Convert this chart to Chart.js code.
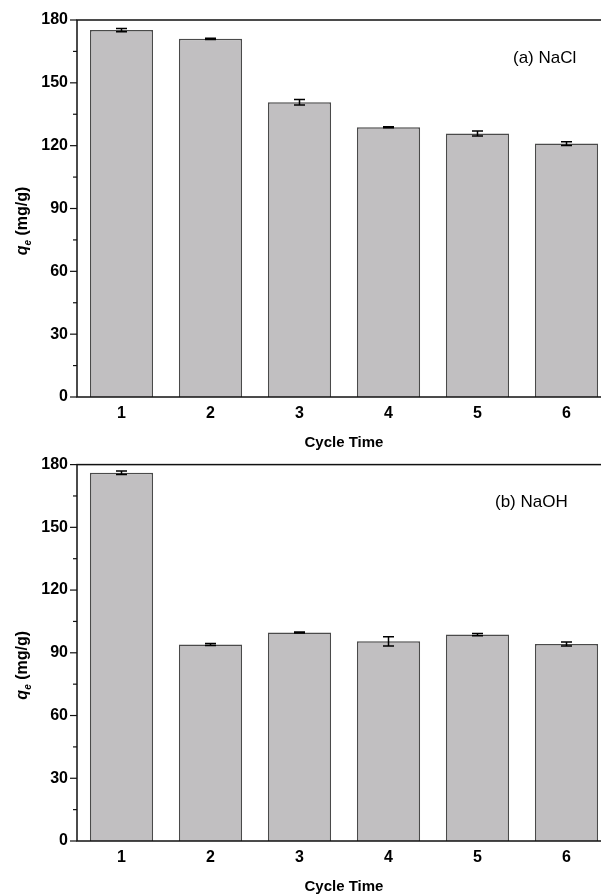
<!DOCTYPE html>
<html>
<head>
<meta charset="utf-8">
<script src="https://cdn.jsdelivr.net/npm/chart.js@4"></script>
<style>
  html, body { margin: 0; padding: 0; background: #fff; width: 601px; height: 896px; overflow: hidden; }
  .panel { position: absolute; left: 0; width: 640px; }
  #p1 { top: 0; height: 452px; }
  #p2 { top: 446px; height: 450px; }
</style>
</head>
<body>
<div class="panel" id="p1"><canvas id="chart-nacl"></canvas></div>
<div class="panel" id="p2"><canvas id="chart-naoh"></canvas></div>
<script>
  const cycles = ["1", "2", "3", "4", "5", "6"];
  const qeNaCl = [175.2, 171.0, 140.7, 128.8, 125.8, 121.0];
  const errNaCl = [0.8, 0.3, 1.3, 0.2, 1.2, 0.9];
  const qeNaOH = [176.1, 94.0, 99.7, 95.5, 98.7, 94.2];
  const errNaOH = [0.8, 0.5, 0.2, 2.2, 0.5, 1.0];
  const yMax = 180;
  const yStep = 15;
  const yLabelStep = 30;

  const FONT = "'Liberation Sans', Arial, sans-serif";

  // error bars, frame, y ticks and axis title drawn over the bars
  const extras = {
    id: "extras",
    afterDatasetsDraw(chart, args, opts) {
      const { ctx, chartArea } = chart;
      const x = chart.scales.x;
      const y = chart.scales.y;
      ctx.save();

      // error bars
      ctx.strokeStyle = "#000";
      ctx.lineWidth = 1.5;
      opts.values.forEach((v, i) => {
        const cx = x.getPixelForValue(i);
        const yHi = y.getPixelForValue(v + opts.errs[i]);
        const yLo = y.getPixelForValue(v - opts.errs[i]);
        ctx.beginPath();
        ctx.moveTo(cx, yHi);
        ctx.lineTo(cx, yLo);
        ctx.moveTo(cx - 5.5, yHi);
        ctx.lineTo(cx + 5.5, yHi);
        ctx.moveTo(cx - 5.5, yLo);
        ctx.lineTo(cx + 5.5, yLo);
        ctx.stroke();
      });

      // frame
      ctx.strokeStyle = "#111";
      ctx.lineWidth = 1.5;
      ctx.strokeRect(chartArea.left, chartArea.top, chartArea.right - chartArea.left, chartArea.bottom - chartArea.top);

      // y ticks, major outward longer
      ctx.lineWidth = 1.2;
      y.ticks.forEach((t) => {
        const py = y.getPixelForValue(t.value);
        const len = t.value % yLabelStep === 0 ? 7 : 4;
        ctx.beginPath();
        ctx.moveTo(chartArea.left, py);
        ctx.lineTo(chartArea.left - len, py);
        ctx.stroke();
      });

      // y axis title: q_e (mg/g)
      ctx.fillStyle = "#000";
      ctx.textBaseline = "alphabetic";
      const parts = [
        { t: "q", f: "italic bold 16px " + FONT, dy: 0 },
        { t: "e", f: "italic bold 10px " + FONT, dy: 4 },
        { t: " (mg/g)", f: "bold 16px " + FONT, dy: 0 },
      ];
      let total = 0;
      parts.forEach((p) => { ctx.font = p.f; p.w = ctx.measureText(p.t).width; total += p.w; });
      const midY = (chartArea.top + chartArea.bottom) / 2 + 12.5;
      ctx.translate(27, midY);
      ctx.rotate(-Math.PI / 2);
      let px = -total / 2;
      parts.forEach((p) => {
        ctx.font = p.f;
        ctx.fillText(p.t, px, p.dy);
        px += p.w;
      });
      ctx.setTransform(1, 0, 0, 1, 0, 0);

      // panel label
      ctx.font = "17px " + FONT;
      ctx.textBaseline = "middle";
      ctx.textAlign = "left";
      ctx.fillText(opts.label, opts.labelX, chartArea.top + 38);
      ctx.restore();
    },
  };

  function makeChart(canvasId, values, errs, label, labelX, topPad) {
    const el = document.getElementById(canvasId);
    return new Chart(el, {
      type: "bar",
      data: {
        labels: cycles,
        datasets: [
          {
            data: values,
            backgroundColor: "#c1bfc1",
            borderColor: "#4a4a4a",
            borderWidth: 1.5,
            categoryPercentage: 1,
            barPercentage: 0.71,
          },
        ],
      },
      options: {
        responsive: true,
        maintainAspectRatio: false,
        animation: false,
        events: [],
        layout: { padding: { left: 0, right: 29, top: topPad, bottom: 0 } },
        scales: {
          x: {
            grid: { display: false, drawTicks: false },
            border: { display: false },
            ticks: { color: "#000", padding: 7, font: { family: FONT, size: 16, weight: "bold" } },
            title: {
              display: true,
              text: "Cycle Time",
              color: "#000",
              padding: { top: 0, bottom: 0 },
              font: { family: FONT, size: 15, weight: "bold" },
            },
            afterFit: (s) => { s.height = 55; },
          },
          y: {
            min: 0,
            max: yMax,
            grid: { display: false, drawTicks: false },
            border: { display: false },
            ticks: {
              stepSize: yStep,
              padding: 9,
              color: "#000",
              font: { family: FONT, size: 16, weight: "bold" },
              callback: (v) => (v % yLabelStep === 0 ? v : ""),
            },
            afterFit: (s) => { s.width = 77; },
          },
        },
        plugins: {
          legend: { display: false },
          tooltip: { enabled: false },
          extras: { values, errs, label, labelX },
        },
      },
      plugins: [extras],
    });
  }

  makeChart("chart-nacl", qeNaCl, errNaCl, "(a) NaCl", 513, 20);
  makeChart("chart-naoh", qeNaOH, errNaOH, "(b) NaOH", 495, 18);
</script>
</body>
</html>
